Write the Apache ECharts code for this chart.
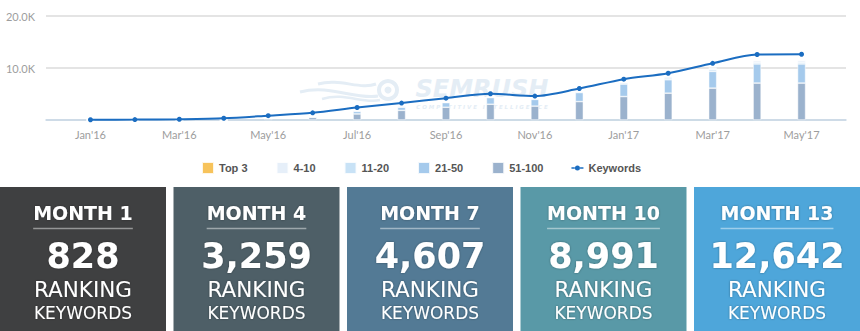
<!DOCTYPE html>
<html><head><meta charset="utf-8">
<script src="https://cdn.jsdelivr.net/npm/echarts@6/dist/echarts.min.js"></script>
<style>html,body{margin:0;padding:0;background:#fff}#c{width:860px;height:331px}</style>
</head><body><div id="c"></div>
<script>
// ---- data ----
const months = ["Jan'16","Feb'16","Mar'16","Apr'16","May'16","Jun'16","Jul'16","Aug'16","Sep'16","Oct'16","Nov'16","Dec'16","Jan'17","Feb'17","Mar'17","Apr'17","May'17"];
const keywords = [50, 80, 150, 330, 828, 1380, 2400, 3259, 4200, 5050, 4607, 6050, 7850, 8991, 10900, 12600, 12642];
const rank51_100 = [0, 0, 0, 0, 250, 500, 1160, 1850, 2450, 3030, 2670, 3540, 4510, 5160, 6130, 7100, 7100];
const rank21_50  = [0, 0, 0, 0, 60, 120, 500, 600, 890, 1280, 1290, 1740, 2400, 2580, 3210, 3680, 3680];
const rank11_20  = [0, 0, 0, 0, 10, 20, 150, 170, 120, 130, 130, 150, 250, 330, 330, 330, 330];
const rank4_10   = [0, 0, 0, 0, 10, 20, 100, 150, 100, 100, 100, 150, 140, 300, 330, 330, 390];
const rankTop3   = [0, 0, 0, 0, 0, 0, 5, 5, 5, 5, 5, 5, 10, 10, 10, 10, 10];
const xLabelIndex = [0, 2, 4, 6, 8, 10, 12, 14, 16];
const yTicks = [0, 10000, 20000];
const legendNames = ['Top 3', '4-10', '11-20', '21-50', '51-100', 'Keywords'];
const boxTitles = ['MONTH 1', 'MONTH 4', 'MONTH 7', 'MONTH 10', 'MONTH 13'];
const boxValues = [828, 3259, 4607, 8991, 12642];
const boxLabel1 = 'RANKING';
const boxLabel2 = 'KEYWORDS';
const watermark1 = 'SEMRUSH';
const watermark2 = 'C O M P E T I T I V E   I N T E L L I G E N C E';

// ---- styles ----
const barColors = {'51-100':'#9bb2cd','21-50':'#a5caec','11-20':'#c8e2f6','4-10':'#e6eff9','Top 3':'#f7c35b'};
const boxColors = ['#3f4041', '#4e5f67', '#537a95', '#5999a7', '#4ea6da'];
const lineColor = '#1b6dc1';
const keywordsIcon = 'path://M0,2h3.4v1.5h-3.4z M8.6,2h3.4v1.5h-3.4z M3.5,2.75a2.5,2.5 0 1 0 5,0a2.5,2.5 0 1 0 -5,0z';

const chart = echarts.init(document.getElementById('c'), null, {renderer: 'svg'});

// pad one empty category at each end so the axis line runs past the first and last month
const categories = [''].concat(months, ['']);
const pad = arr => ['-'].concat(arr, ['-']);
const barSeries = [
  ['51-100', rank51_100], ['21-50', rank21_50], ['11-20', rank11_20], ['4-10', rank4_10], ['Top 3', rankTop3]
].map(([name, arr]) => ({
  name, type: 'bar', stack: 'rank', data: pad(arr), barWidth: 8, z: 2,
  itemStyle: {color: barColors[name], borderColor: 'rgba(255,255,255,0.85)', borderWidth: 0.6},
  emphasis: {disabled: true}
}));

const mctx = document.createElement('canvas').getContext('2d');
const titleFont = 'bold 19px "DejaVu Sans"';
mctx.font = titleFont;

const graphics = [];
const wm = '#e4edf5';
graphics.push({type:'circle', z:0, shape:{cx:388, cy:90, r:9}, style:{fill:'none', stroke:wm, lineWidth:4}});
graphics.push({type:'circle', z:0, shape:{cx:388, cy:90, r:3.5}, style:{fill:wm}});
graphics.push({type:'bezierCurve', z:0, shape:{x1:300, y1:92, x2:378, y2:96, cpx1:330, cpy1:84, cpx2:355, cpy2:100}, style:{stroke:wm, lineWidth:3, fill:'none'}});
graphics.push({type:'bezierCurve', z:0, shape:{x1:318, y1:84, x2:376, y2:84, cpx1:340, cpy1:78, cpx2:360, cpy2:90}, style:{stroke:wm, lineWidth:3, fill:'none'}});
graphics.push({type:'bezierCurve', z:0, shape:{x1:322, y1:99, x2:380, y2:100, cpx1:345, cpy1:92, cpx2:362, cpy2:104}, style:{stroke:wm, lineWidth:2.5, fill:'none'}});
graphics.push({type:'text', z:0, style:{text:watermark1, x:482, y:89, align:'center', verticalAlign:'middle', font:'italic bold 24px "DejaVu Sans"', fill:wm}});
graphics.push({type:'text', z:0, style:{text:watermark2, x:482, y:106.5, align:'center', verticalAlign:'middle', font:'italic bold 5.5px "DejaVu Sans"', fill:wm}});

const boxW = 166, boxTop = 187, boxH = 144, boxStep = 173.5;
boxTitles.forEach((t, i) => {
  const x0 = i * boxStep, cx = x0 + boxW / 2;
  const shadow = {textShadowColor:'rgba(0,0,0,0.35)', textShadowBlur:2};
  graphics.push({type:'rect', z:0, shape:{x:x0, y:boxTop, width:boxW, height:boxH}, style:{fill:boxColors[i]}});
  graphics.push({type:'text', z:1, style:Object.assign({text:t, x:cx, y:213, align:'center', verticalAlign:'middle', font:titleFont, fill:'#fff'}, shadow)});
  const w = mctx.measureText(t).width;
  graphics.push({type:'line', z:1, shape:{x1:cx - w/2, y1:228.5, x2:cx + w/2, y2:228.5}, style:{stroke:'rgba(255,255,255,0.45)', lineWidth:1.5}});
  graphics.push({type:'text', z:1, style:Object.assign({text:boxValues[i].toLocaleString('en-US'), x:cx, y:256, align:'center', verticalAlign:'middle', font:'bold 35px "DejaVu Sans"', fill:'#fff'}, shadow)});
  graphics.push({type:'text', z:1, style:Object.assign({text:boxLabel1, x:cx, y:289, align:'center', verticalAlign:'middle', font:'21.5px "DejaVu Sans"', fill:'#fff'}, shadow)});
  graphics.push({type:'text', z:1, style:Object.assign({text:boxLabel2, x:cx, y:312.5, align:'center', verticalAlign:'middle', font:'17px "DejaVu Sans"', fill:'#fff'}, shadow)});
});

const option = {
  animation: false,
  backgroundColor: '#fff',
  grid: {left: 46, right: 14, top: 16, bottom: 211, containLabel: false},
  xAxis: {
    type: 'category', data: categories, boundaryGap: false,
    axisLine: {show: true, lineStyle: {color: '#c6d8e7', width: 1.5}},
    axisTick: {show: false},
    splitLine: {show: false},
    axisLabel: {interval: (idx) => xLabelIndex.indexOf(idx - 1) >= 0, color: '#9d9d9d', fontSize: 11, fontFamily: 'Lato', margin: 9}
  },
  yAxis: {
    type: 'value', min: yTicks[0], max: yTicks[yTicks.length - 1], interval: yTicks[1] - yTicks[0],
    axisLine: {show: false}, axisTick: {show: false},
    splitLine: {lineStyle: {color: '#e4e4e4', width: 1.8}},
    axisLabel: {formatter: v => v === 0 ? '' : (v / 1000).toFixed(1) + 'K', color: '#9d9d9d', fontSize: 11, fontFamily: 'Lato', margin: 11}
  },
  legend: {
    left: 201, top: 161, padding: 0, itemWidth: 12, itemHeight: 12, itemGap: 28, symbolKeepAspect: true,
    textStyle: {fontSize: 11, color: '#555', fontWeight: 'bold', fontFamily: 'Liberation Sans'},
    data: legendNames.map(n => n === 'Keywords' ? {name: n, icon: keywordsIcon} : {name: n, icon: 'rect'}),
    selectedMode: false
  },
  graphic: {elements: graphics},
  series: barSeries.concat([{
    name: 'Keywords', type: 'line', data: pad(keywords), smooth: 0.3, z: 5,
    symbol: 'circle', symbolSize: 5, showAllSymbol: true,
    lineStyle: {color: lineColor, width: 2}, itemStyle: {color: lineColor},
    emphasis: {disabled: true}
  }])
};
chart.setOption(option);
</script>
</body></html>
